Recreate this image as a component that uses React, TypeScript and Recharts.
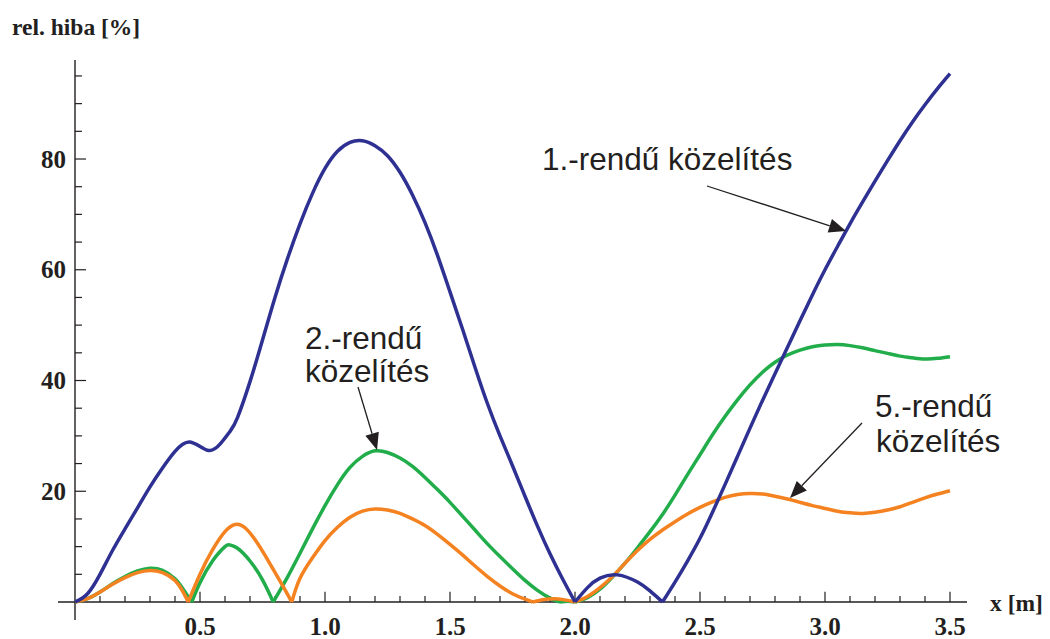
import React from 'react';
import { LineChart, Line, XAxis, YAxis, ReferenceLine } from 'recharts';

// ---------- data (x [m], relative error [%]) ----------
const firstOrder: [number, number][] = [
  [0, 0], [0.05, 1.5], [0.1, 5], [0.15, 9.3], [0.2, 13.2], [0.25, 17], [0.3, 20.8], [0.35, 24.2],
  [0.4, 27.2], [0.46, 28.9], [0.53, 27.4], [0.58, 28.5], [0.62, 30.8], [0.65, 33.3], [0.7, 39.8],
  [0.75, 47.3], [0.8, 55], [0.85, 62], [0.9, 68.3], [0.95, 73.8], [1.0, 78.3], [1.05, 81.4],
  [1.1, 83], [1.15, 83.3], [1.2, 82.4], [1.25, 80.6], [1.3, 77.6], [1.35, 73.5], [1.4, 68.5],
  [1.45, 62.6], [1.5, 56], [1.55, 49.3], [1.6, 42.4], [1.65, 35.8], [1.7, 30], [1.75, 24.6],
  [1.8, 19.1], [1.85, 13.7], [1.9, 8.7], [1.95, 4.2], [2.0, 0], [2.05, 2.6], [2.1, 4.3], [2.17, 4.9],
  [2.25, 3.6], [2.3, 2], [2.35, 0], [2.4, 3.6], [2.45, 7.4], [2.5, 11.5], [2.55, 16.2], [2.6, 21.2],
  [2.65, 26.3], [2.7, 31.4], [2.75, 36.4], [2.8, 41.2], [2.85, 46], [2.9, 50.8], [2.95, 55.5],
  [3.0, 60], [3.05, 64.2], [3.1, 68.3], [3.15, 72.2], [3.2, 76], [3.25, 79.7], [3.3, 83.3],
  [3.35, 86.7], [3.4, 89.8], [3.45, 92.7], [3.5, 95.4],
];

const secondOrder: [number, number][] = [
  [0, 0], [0.05, 0.6], [0.1, 1.8], [0.15, 3.3], [0.2, 4.6], [0.25, 5.6], [0.3, 6.1], [0.35, 5.7],
  [0.4, 4.2], [0.43, 2.5], [0.467, 0], [0.5, 3.5], [0.55, 7.4], [0.6, 10], [0.62, 10.3], [0.65, 9.7],
  [0.7, 7.4], [0.75, 4], [0.793, 0], [0.85, 4.5], [0.9, 8.8], [0.95, 13.2], [1.0, 17.4],
  [1.05, 21.2], [1.1, 24.3], [1.15, 26.3], [1.2, 27.3], [1.25, 27], [1.3, 26], [1.35, 24.5],
  [1.4, 22.5], [1.45, 20.3], [1.5, 18], [1.55, 15.5], [1.6, 13], [1.65, 10.5], [1.7, 8.2],
  [1.75, 6], [1.8, 3.9], [1.85, 2.1], [1.9, 0.7], [1.94, 0], [1.97, 0.15], [2.0, 0], [2.05, 0.8],
  [2.1, 2.3], [2.15, 4.5], [2.2, 7], [2.25, 9.8], [2.3, 12.7], [2.35, 15.8], [2.4, 19.3],
  [2.45, 23], [2.5, 26.6], [2.55, 30.2], [2.6, 33.5], [2.65, 36.5], [2.7, 39.2], [2.75, 41.5],
  [2.8, 43.3], [2.85, 44.6], [2.9, 45.5], [2.95, 46.1], [3.0, 46.4], [3.05, 46.5], [3.1, 46.3],
  [3.15, 45.9], [3.2, 45.4], [3.25, 44.9], [3.3, 44.4], [3.35, 44.1], [3.4, 43.9], [3.45, 44],
  [3.5, 44.3],
];

const fifthOrder: [number, number][] = [
  [0, 0], [0.05, 0.6], [0.1, 1.8], [0.15, 3.2], [0.2, 4.4], [0.25, 5.3], [0.3, 5.7], [0.35, 5.3],
  [0.4, 3.9], [0.43, 2], [0.453, 0], [0.5, 5], [0.55, 9.4], [0.6, 12.7], [0.64, 14], [0.68, 13.4],
  [0.73, 10.6], [0.78, 6.9], [0.83, 3], [0.867, 0], [0.9, 4.3], [0.95, 8], [1.0, 11.1], [1.05, 13.5],
  [1.1, 15.3], [1.15, 16.4], [1.2, 16.8], [1.25, 16.6], [1.3, 16], [1.35, 15], [1.4, 13.8],
  [1.45, 12.2], [1.5, 10.4], [1.55, 8.5], [1.6, 6.5], [1.65, 4.6], [1.7, 2.9], [1.75, 1.5],
  [1.8, 0.5], [1.83, 0], [1.87, 0.4], [1.92, 0.6], [1.97, 0.3], [2.0, 0], [2.05, 1], [2.1, 2.6],
  [2.15, 4.6], [2.2, 7], [2.25, 9.3], [2.3, 11.3], [2.35, 13], [2.4, 14.5], [2.45, 15.9],
  [2.5, 17.1], [2.55, 18.1], [2.6, 18.9], [2.65, 19.4], [2.7, 19.6], [2.75, 19.5], [2.8, 19.1],
  [2.85, 18.6], [2.9, 18], [2.95, 17.4], [3.0, 16.9], [3.05, 16.4], [3.1, 16.1], [3.15, 16],
  [3.2, 16.2], [3.25, 16.6], [3.3, 17.2], [3.35, 18], [3.4, 18.8], [3.45, 19.5], [3.5, 20.1],
];

const xTickValues = [0.5, 1.0, 1.5, 2.0, 2.5, 3.0, 3.5];
const xTickLabels = ['0.5', '1.0', '1.5', '2.0', '2.5', '3.0', '3.5'];
const yTickValues = [20, 40, 60, 80];
const yTickLabels = ['20', '40', '60', '80'];
const xMinorTicks = Array.from({ length: 35 }, (_, i) => +((i + 1) * 0.1).toFixed(1));
const yMinorTicks = Array.from({ length: 19 }, (_, i) => (i + 1) * 5);

// split a |error| curve at its interior zeros so each hump is a smooth piece with a sharp cusp
const splitAtZeros = (arr: [number, number][]) => {
  const segs: { x: number; y: number }[][] = [];
  let cur: { x: number; y: number }[] = [];
  arr.forEach(([x, y], i) => {
    cur.push({ x, y });
    if (y === 0 && i > 0 && i < arr.length - 1) {
      segs.push(cur);
      cur = [{ x, y }];
    }
  });
  if (cur.length > 1) segs.push(cur);
  return segs;
};

// ---------- layout ----------
const W = 1034;
const H = 631;
const X_DOMAIN: [number, number] = [-0.068, 3.568];
const Y_DOMAIN: [number, number] = [-3.25, 97.88];
const AXIS_COLOR = '#231f20';
const BLUE = '#2e3192';
const GREEN = '#22ad4b';
const ORANGE = '#f58220';
const SERIF = '"Liberation Serif", "Times New Roman", serif';
const SANS = '"Liberation Sans", Arial, Helvetica, sans-serif';

const XTick = (props: any) => {
  const { x, payload } = props;
  const idx = xTickValues.indexOf(payload.value);
  return (
    <text x={x} y={627} textAnchor="middle" fontFamily={SERIF} fontWeight="bold" fontSize={25} fill={AXIS_COLOR}>
      {idx >= 0 ? xTickLabels[idx] : payload.value}
    </text>
  );
};

const YTick = (props: any) => {
  const { y, payload } = props;
  const idx = yTickValues.indexOf(payload.value);
  return (
    <text x={58} y={y} dy={8.5} textAnchor="end" fontFamily={SERIF} fontWeight="bold" fontSize={25} fill={AXIS_COLOR}>
      {idx >= 0 ? yTickLabels[idx] : payload.value}
    </text>
  );
};

const Arrow = ({ x1, y1, x2, y2 }: { x1: number; y1: number; x2: number; y2: number }) => {
  const dx = x2 - x1;
  const dy = y2 - y1;
  const len = Math.hypot(dx, dy);
  const ux = dx / len;
  const uy = dy / len;
  const hl = 17;
  const hw = 7;
  const bx = x2 - ux * hl;
  const by = y2 - uy * hl;
  const p1 = `${bx - uy * hw},${by + ux * hw}`;
  const p2 = `${bx + uy * hw},${by - ux * hw}`;
  return (
    <g>
      <line x1={x1} y1={y1} x2={bx} y2={by} stroke={AXIS_COLOR} strokeWidth={1.3} />
      <polygon points={`${x2},${y2} ${p1} ${p2}`} fill={AXIS_COLOR} />
    </g>
  );
};

const series = [
  { name: 'second', data: secondOrder, color: GREEN },
  { name: 'fifth', data: fifthOrder, color: ORANGE },
  { name: 'first', data: firstOrder, color: BLUE },
];

export default function App() {
  const o = 8; // page offset of the chart
  return (
    <div style={{ position: 'relative', width: W, height: H }}>
      <LineChart width={W} height={H} margin={{ top: 52, right: 75, bottom: 0, left: 0 }}>
        <XAxis
          type="number"
          dataKey="x"
          domain={X_DOMAIN}
          ticks={xTickValues}
          allowDataOverflow
          axisLine={false}
          tickLine={false}
          height={19}
          tick={<XTick />}
          interval={0}
        />
        <YAxis
          type="number"
          dataKey="y"
          domain={Y_DOMAIN}
          ticks={yTickValues}
          allowDataOverflow
          axisLine={false}
          tickLine={false}
          width={50}
          tick={<YTick />}
          interval={0}
        />
        <ReferenceLine segment={[{ x: X_DOMAIN[0], y: 0 }, { x: X_DOMAIN[1], y: 0 }]} stroke={AXIS_COLOR} strokeWidth={1.4} />
        <ReferenceLine segment={[{ x: 0, y: Y_DOMAIN[0] }, { x: 0, y: Y_DOMAIN[1] }]} stroke={AXIS_COLOR} strokeWidth={1.4} />
        {xMinorTicks.map((t) => (
          <ReferenceLine
            key={'xt' + t}
            segment={[{ x: t, y: 0 }, { x: t, y: Math.abs((t * 10) % 5) < 0.01 ? 1.85 : 1.1 }]}
            stroke={AXIS_COLOR}
            strokeWidth={1.2}
          />
        ))}
        {yMinorTicks.map((t) => (
          <ReferenceLine
            key={'yt' + t}
            segment={[{ x: 0, y: t }, { x: t % 20 === 0 ? 0.044 : 0.028, y: t }]}
            stroke={AXIS_COLOR}
            strokeWidth={1.2}
          />
        ))}
        {series.flatMap((s) =>
          splitAtZeros(s.data).map((seg, i) => (
            <Line
              key={s.name + i}
              data={seg}
              dataKey="y"
              type="natural"
              stroke={s.color}
              strokeWidth={3.5}
              dot={false}
              activeDot={false}
              isAnimationActive={false}
            />
          ))
        )}
      </LineChart>
      <svg width={W} height={H} style={{ position: 'absolute', left: 0, top: 0, pointerEvents: 'none' }}>
        <text x={10 - o + 2} y={35 - o} fontFamily={SERIF} fontWeight="bold" fontSize={23.5} fill={AXIS_COLOR}>rel. hiba [%]</text>
        <text x={990 - o} y={611 - o} fontFamily={SERIF} fontWeight="bold" fontSize={23.5} fill={AXIS_COLOR}>x [m]</text>
        <g fontFamily={SANS} fontSize={31.5} fill={AXIS_COLOR}>
          <text x={542 - o} y={170 - o}>1.-rendű közelítés</text>
          <text x={305 - o} y={349 - o}>2.-rendű</text>
          <text x={305 - o} y={382 - o}>közelítés</text>
          <text x={875 - o} y={417 - o}>5.-rendű</text>
          <text x={876 - o} y={452 - o}>közelítés</text>
        </g>
        <Arrow x1={707 - o} y1={186 - o} x2={846 - o} y2={231 - o} />
        <Arrow x1={358 - o} y1={387 - o} x2={377 - o} y2={450 - o} />
        <Arrow x1={862 - o} y1={423 - o} x2={790 - o} y2={498 - o} />
      </svg>
    </div>
  );
}
